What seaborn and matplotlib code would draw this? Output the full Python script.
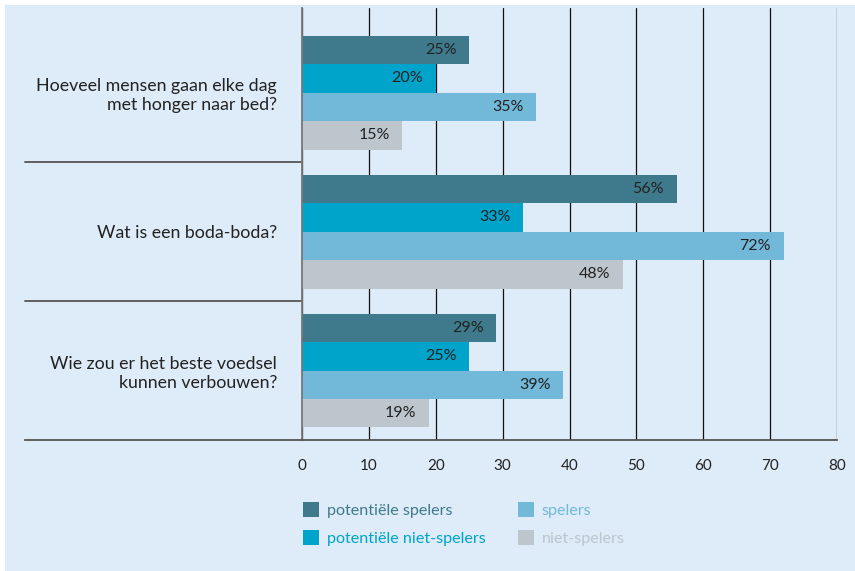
import matplotlib
matplotlib.use('Agg')
import matplotlib.pyplot as plt
from matplotlib.patches import Patch, Rectangle
import pandas as pd
import seaborn as sns

questions = ['Hoeveel mensen gaan elke dag\nmet honger naar bed?',
             'Wat is een boda-boda?',
             'Wie zou er het beste voedsel\nkunnen verbouwen?']
groups = ['potentiële spelers', 'potentiële niet-spelers',
          'spelers', 'niet-spelers']
pot_spelers = [25, 56, 29]
pot_niet_spelers = [20, 33, 25]
spelers = [35, 72, 39]
niet_spelers = [15, 48, 19]
colors = ['#3f7a8c', '#00a3c9', '#72b8d8', '#bcc6cc']
bg = '#deebf8'

rows = []
for name, vals in zip(groups, [pot_spelers, pot_niet_spelers, spelers, niet_spelers]):
    for q, v in zip(questions, vals):
        rows.append({'vraag': q, 'groep': name, 'pct': v})
df = pd.DataFrame(rows)

sns.set_style('white')
plt.rcParams['font.family'] = ['Lato', 'DejaVu Sans']

fig = plt.figure(figsize=(8.55, 5.71), dpi=100, facecolor='white')
fig.patches.append(Rectangle((5 / 855, 0), 1, 1 - 5 / 571, transform=fig.transFigure,
                             facecolor=bg, edgecolor='none', zorder=-10))
ax = fig.add_axes([302 / 855, 1 - 440 / 571, 535 / 855, 432 / 571])
ax.set_facecolor(bg)

sns.barplot(data=df, y='vraag', x='pct', hue='groep', order=questions,
            hue_order=groups, palette=colors, orient='h', width=0.82,
            saturation=1, linewidth=0, legend=False, ax=ax)

# value labels inside the bar ends
for cont in ax.containers:
    labels = ax.bar_label(cont, labels=[f'{int(v)}%' for v in cont.datavalues],
                          padding=-9, fontsize=11.5, color='#222222')
    for t in labels:
        t.set_ha('right')

ax.set_xlim(0, 80)
ax.set_ylim(2.5, -0.61)
ax.set_xticks(range(0, 81, 10))
ax.set_axisbelow(True)
ax.grid(axis='x', color='#111111', linewidth=0.9)
ax.tick_params(axis='x', length=0, pad=14, labelsize=11, labelcolor='#222222')
ax.tick_params(axis='y', length=0, pad=18, labelsize=12.8, labelcolor='#222222')
ax.set_xlabel('')
ax.set_ylabel('')
for s in ['top', 'right']:
    ax.spines[s].set_visible(False)
ax.spines['left'].set_color('#777777')
ax.spines['left'].set_linewidth(1.3)
ax.spines['bottom'].set_color('#555555')
ax.spines['bottom'].set_linewidth(1.3)
ax.spines['bottom'].set_bounds(-0.518 * 80, 80)
ax.spines['bottom'].set_clip_on(False)

# separator lines between questions, reaching into the label area
for y in [0.5, 1.5]:
    ax.plot([-0.518, 0], [y, y], transform=ax.get_yaxis_transform(),
            color='#555555', linewidth=1.3, clip_on=False)

handles = [Patch(facecolor=c, edgecolor='none') for c in colors]
leg = fig.legend(handles, groups, ncol=2, loc='upper left',
                 bbox_to_anchor=(288 / 855, 1 - 488 / 571), frameon=False,
                 fontsize=11.6, handlelength=1.0, handleheight=1.0,
                 handletextpad=0.5, columnspacing=2.0, labelspacing=0.75)
for txt, c in zip(leg.get_texts(), colors):
    txt.set_color(c)

fig.savefig('out.png', dpi=100, facecolor='white')
